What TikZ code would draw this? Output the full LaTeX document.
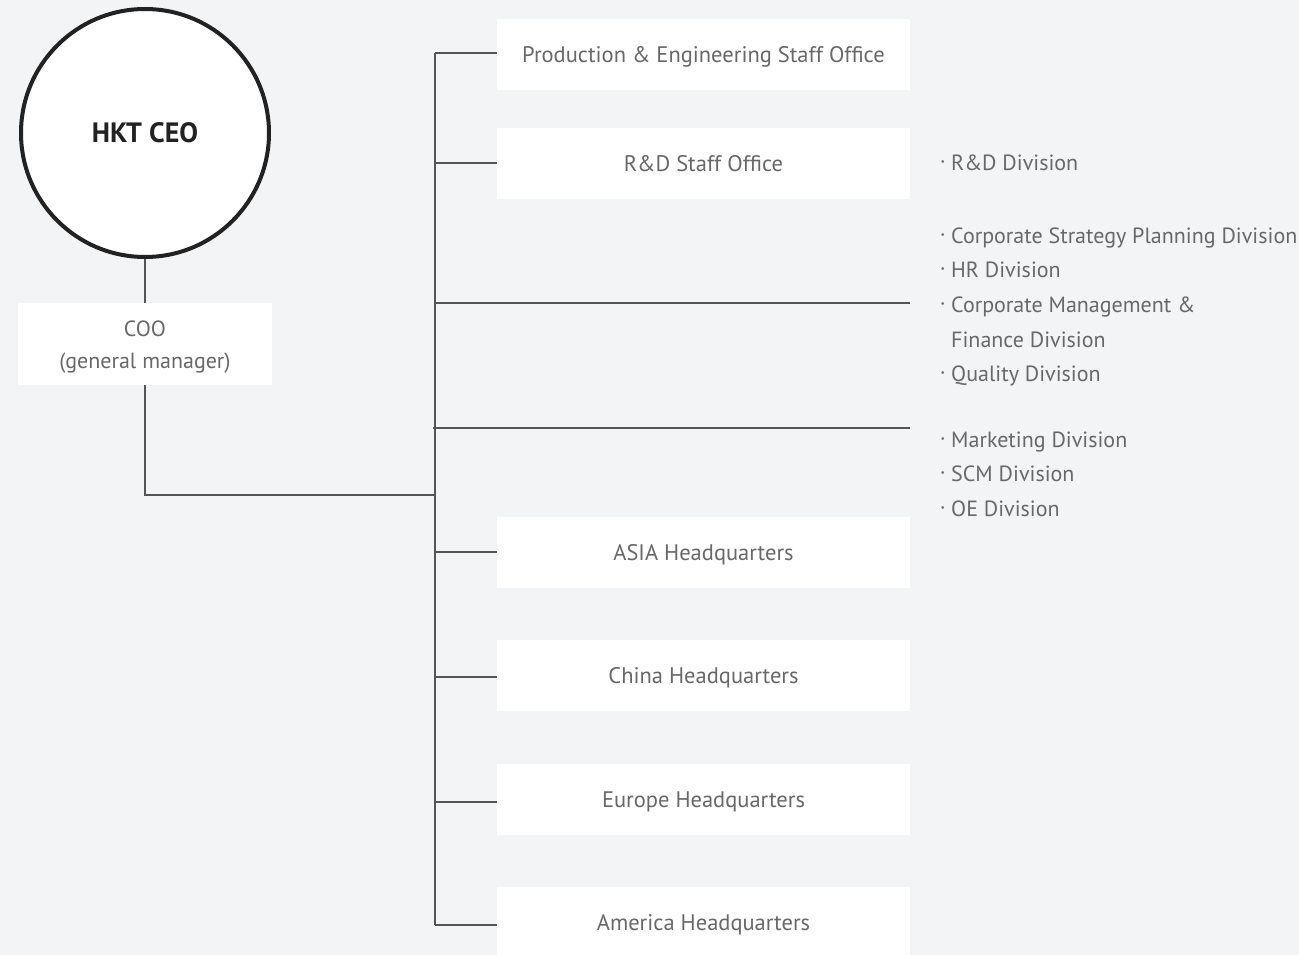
\documentclass[tikz,border=0pt]{standalone}
\usepackage{fontspec}
\setmainfont{PT Sans}
\definecolor{bg}{HTML}{F3F4F6}
\definecolor{txt}{HTML}{686868}
\definecolor{ln}{HTML}{555555}
\definecolor{dark}{HTML}{222222}
\begin{document}
\begin{tikzpicture}[x=1pt,y=-1pt,
  box/.style={fill=white,minimum width=413pt,minimum height=71pt,inner sep=0pt,text height=16pt,text depth=0pt,text=txt,font=\fontsize{22.5}{26}\selectfont},
  conn/.style={draw=ln,line width=1.2pt},
  item/.style={anchor=base west,inner sep=0pt,text=txt,font=\fontsize{22}{26}\selectfont}]
\useasboundingbox[fill=bg] (0,0) rectangle (1299,955);
% CEO
\node[circle,draw=dark,line width=4pt,fill=white,minimum size=248pt,inner sep=0pt,text=dark,font=\bfseries\fontsize{28}{32}\selectfont] (ceo) at (145,133) {HKT CEO};
\node[fill=white,minimum width=254pt,minimum height=82pt,inner sep=0pt] (coo) at (145,344) {};
\node[inner sep=0pt,text=txt,align=center,font=\fontsize{22}{32}\selectfont] (cootxt) at (145,347) {COO\\(general manager)};
% boxes
\node[box] (pe) at (703.5,54.5) {Production \& Engineering Staff Office};
\node[box] (rd) at (703.5,163.5) {R\&D Staff Office};
\node[box] (asia) at (703.5,552) {ASIA Headquarters};
\node[box] (china) at (703.5,675.5) {China Headquarters};
\node[box] (europe) at (703.5,799.5) {Europe Headquarters};
\node[box] (america) at (703.5,922.5) {America Headquarters};
% coordinates
\coordinate (btop) at (435,53);
\coordinate (bbot) at (435,925);
\coordinate (bj) at (435,495);
\coordinate (cj) at (145,495);
\coordinate (b3) at (435,303);
\coordinate (e3) at (910,303);
\coordinate (b4) at (433,428);
\coordinate (e4) at (910,428);
% connectors
\draw[conn] (ceo.south) -- (coo.north);
\draw[conn] (coo.south) -- (cj) -- (bj);
\draw[conn] (btop) -- (bbot);
\draw[conn] (btop) -- (btop -| pe.west);
\draw[conn] (435,163) -- (rd.west |- 0,163);
\draw[conn] (b3) -- (e3);
\draw[conn] (b4) -- (e4);
\draw[conn] (435,552) -- (asia.west |- 0,552);
\draw[conn] (435,677) -- (china.west |- 0,677);
\draw[conn] (435,802) -- (europe.west |- 0,802);
\draw[conn] (bbot) -- (america.west |- bbot);
% right items
\foreach \y/\t [count=\i] in {170.5/R\&D Division,243/Corporate Strategy Planning Division,277/HR Division,312/Corporate Management \&,381/Quality Division,447/Marketing Division,481/SCM Division,516/OE Division}{
  \node[item] (it\i) at (951,\y) {\t};
  \node[anchor=base east,inner sep=0pt,text=txt,font=\fontsize{22}{26}\selectfont] (bu\i) at (946,\y-2) {·};
}
\node[item] (fin) at (951,347) {Finance Division};
\end{tikzpicture}
\end{document}
